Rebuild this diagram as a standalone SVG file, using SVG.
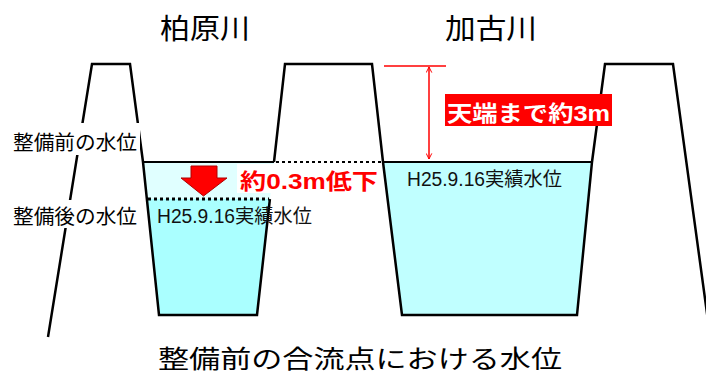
<svg xmlns="http://www.w3.org/2000/svg" width="706" height="374" viewBox="0 0 706 374">
<style>
.out{fill:none;stroke:#000;stroke-width:2.5;stroke-linejoin:miter}
.jp{font-family:"Noto Sans CJK JP","Noto Sans CJK SC",sans-serif;fill:#000}
.mix{font-family:"Liberation Sans","Noto Sans CJK JP",sans-serif;fill:#111}
.bold{font-family:"Liberation Sans","Noto Sans CJK JP",sans-serif;font-weight:bold}
</style>
<defs>
<marker id="ah" viewBox="0 0 10 10" refX="9" refY="5" markerWidth="7" markerHeight="7" orient="auto-start-reverse" markerUnits="userSpaceOnUse">
<path d="M1,1 L9,5 L1,9" fill="none" stroke="#FF0000" stroke-width="1.4"/>
</marker>
</defs>
<rect width="706" height="374" fill="#fff"/>
<g id="water">
<polygon points="143,162 274,162 269.9,199 146.9,199" fill="#E0FFFF"/>
<polygon points="146.9,199 269.9,199 257,315 159,315" fill="#AAFFFF"/>
<polygon points="383,162 592,162 577,315 402,315" fill="#C0FFFF"/>
</g>
<g id="banks">
<path class="out" d="M48,337 L92,64 L130,64 L143,162 L159,315 L257,315 L269.9,199"/>
<path class="out" d="M274,162 L285,64 L372,64 L383,162 L402,315 L577,315 L592,162 L605,64 L673,64 L712,350"/>
<line x1="143" y1="162" x2="274" y2="162" stroke="#000" stroke-width="2.2"/>
<line x1="383" y1="162" x2="592" y2="162" stroke="#000" stroke-width="2.2"/>
<line x1="276" y1="162" x2="383" y2="162" stroke="#000" stroke-width="2" stroke-dasharray="3,3"/>
<line x1="148" y1="199" x2="269" y2="199" stroke="#000" stroke-width="3" stroke-dasharray="3,3"/>
</g>
<g id="label-before">
<rect x="10" y="123" width="130" height="32" fill="#fff"/>
<text class="jp" x="13" y="149.5" font-size="20" textLength="124" lengthAdjust="spacingAndGlyphs">整備前の水位</text>
</g>
<g id="label-after">
<rect x="10" y="200" width="131" height="28" fill="#fff"/>
<text class="jp" x="13" y="223.5" font-size="20" textLength="124" lengthAdjust="spacingAndGlyphs">整備後の水位</text>
</g>
<g id="title-left">
<text class="jp" x="160" y="39" font-size="28" textLength="90" lengthAdjust="spacingAndGlyphs">柏原川</text>
</g>
<g id="title-right">
<text class="jp" x="445" y="39" font-size="28" textLength="92" lengthAdjust="spacingAndGlyphs">加古川</text>
</g>
<g id="record-left">
<text class="mix" x="157" y="223" font-size="19.5" textLength="155" lengthAdjust="spacingAndGlyphs">H25.9.16実績水位</text>
</g>
<g id="record-right">
<text class="mix" x="407" y="186" font-size="19.5" textLength="155" lengthAdjust="spacingAndGlyphs">H25.9.16実績水位</text>
</g>
<g id="drop">
<rect x="237" y="164" width="142" height="29" fill="#fff"/>
<text class="bold" x="240" y="188.5" font-size="22" fill="#FF0000" textLength="138" lengthAdjust="spacingAndGlyphs">約0.3m低下</text>
<polygon points="191,166 217,166 217,178 227,178 203.5,196 181,178 191,178" fill="#FF0000" stroke="#B00000" stroke-width="1"/>
</g>
<g id="freeboard">
<line x1="384" y1="66" x2="446" y2="66" stroke="#FF0000" stroke-width="1.5"/>
<line x1="429" y1="67" x2="429" y2="159" stroke="#FF0000" stroke-width="1.5" marker-start="url(#ah)" marker-end="url(#ah)"/>
<rect x="445" y="94" width="167" height="32" fill="#FF0000"/>
<text class="bold" x="447" y="120.5" font-size="22" fill="#fff" textLength="163" lengthAdjust="spacingAndGlyphs">天端まで約3m</text>
</g>
<g id="caption">
<text class="jp" x="158" y="368" font-size="25" textLength="404" lengthAdjust="spacingAndGlyphs">整備前の合流点における水位</text>
</g>
</svg>
